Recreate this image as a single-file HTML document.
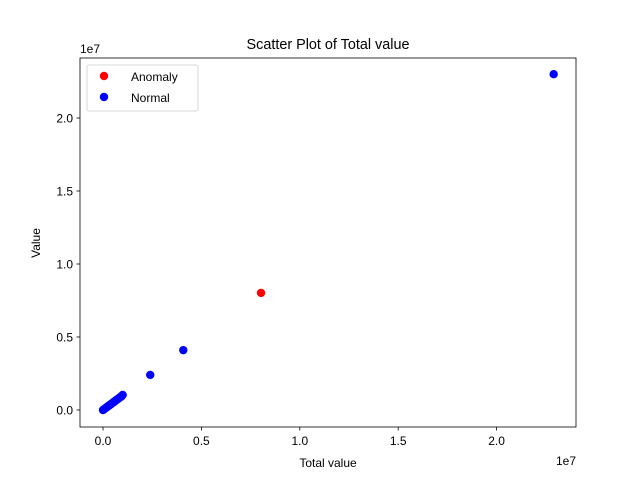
<!DOCTYPE html>
<html><head><meta charset="utf-8"><style>
body{margin:0;background:#fff;}
svg{display:block;font-family:"Liberation Sans","DejaVu Sans",sans-serif;}
</style></head><body>
<svg id="chart" width="640" height="480">
<rect width="640" height="480" fill="#fff"/>
<text x="328" y="49" font-size="14.4" text-anchor="middle">Scatter Plot of Total value</text>
<g id="marks"></g>
<g id="axes"></g>
<rect x="80" y="58" width="496" height="369" fill="none" stroke="#000" stroke-width="0.8"/>
<text x="328" y="467" font-size="12" text-anchor="middle">Total value</text>
<text x="40" y="243" font-size="12" text-anchor="middle" transform="rotate(-90 40 243)">Value</text>
<text x="576" y="465" font-size="12" text-anchor="end">1e7</text>
<text x="80" y="53" font-size="12">1e7</text>
<g>
<rect x="87" y="65" width="111" height="46" rx="2" fill="#fff" stroke="#ccc" stroke-width="0.8"/>
<circle cx="104" cy="76" r="4.2" fill="red"/>
<text x="131" y="81" font-size="12">Anomaly</text>
<circle cx="104" cy="97" r="4.2" fill="blue"/>
<text x="131" y="102" font-size="12">Normal</text>
</g>
</svg>
<script>
const normalX=[0,0.05e6,0.1e6,0.15e6,0.2e6,0.25e6,0.3e6,0.35e6,0.4e6,0.45e6,0.5e6,0.55e6,0.6e6,0.65e6,0.7e6,0.75e6,0.8e6,0.85e6,0.9e6,0.95e6,1.0e6,2.4e6,4.08e6,22.9e6];
const normalY=[0,0.05e6,0.1e6,0.15e6,0.2e6,0.25e6,0.3e6,0.35e6,0.4e6,0.45e6,0.5e6,0.55e6,0.6e6,0.65e6,0.7e6,0.75e6,0.8e6,0.85e6,0.9e6,0.95e6,1.03e6,2.4e6,4.1e6,23.0e6];
const anomalyX=[8.03e6];
const anomalyY=[8.02e6];
const xTicks=[0,0.5e7,1.0e7,1.5e7,2.0e7];
const xTickLabels=["0.0","0.5","1.0","1.5","2.0"];
const yTicks=[0,0.5e7,1.0e7,1.5e7,2.0e7];
const yTickLabels=["0.0","0.5","1.0","1.5","2.0"];
const NS="http://www.w3.org/2000/svg";
const sx=v=>103+v*19.68e-6;
const sy=v=>410-v*14.6e-6;
const marks=document.getElementById('marks');
const axes=document.getElementById('axes');
function dot(x,y,c,name){
 const e=document.createElementNS(NS,'circle');
 e.setAttribute('cx',sx(x));e.setAttribute('cy',sy(y));e.setAttribute('r',4.2);e.setAttribute('fill',c);
 
 
 marks.appendChild(e);
}
anomalyX.forEach((x,i)=>dot(x,anomalyY[i],'red','anomaly-point'));
normalX.forEach((x,i)=>dot(x,normalY[i],'blue','normal-point'));
xTicks.forEach((t,i)=>{
 const l=document.createElementNS(NS,'line');
 l.setAttribute('x1',sx(t));l.setAttribute('x2',sx(t));l.setAttribute('y1',427);l.setAttribute('y2',430.5);l.setAttribute('stroke','#000');l.setAttribute('stroke-width','0.8');
 
 
 axes.appendChild(l);
 const tx=document.createElementNS(NS,'text');
 tx.setAttribute('x',sx(t));tx.setAttribute('y',445);tx.setAttribute('font-size','12');tx.setAttribute('text-anchor','middle');
 tx.textContent=xTickLabels[i];
 
 
 axes.appendChild(tx);
});
yTicks.forEach((t,i)=>{
 const l=document.createElementNS(NS,'line');
 l.setAttribute('x1',76.5);l.setAttribute('x2',80);l.setAttribute('y1',sy(t));l.setAttribute('y2',sy(t));l.setAttribute('stroke','#000');l.setAttribute('stroke-width','0.8');
 
 
 axes.appendChild(l);
 const tx=document.createElementNS(NS,'text');
 tx.setAttribute('x',73);tx.setAttribute('y',sy(t)+4.5);tx.setAttribute('font-size','12');tx.setAttribute('text-anchor','end');
 tx.textContent=yTickLabels[i];
 
 
 axes.appendChild(tx);
});
</script>
</body></html>
